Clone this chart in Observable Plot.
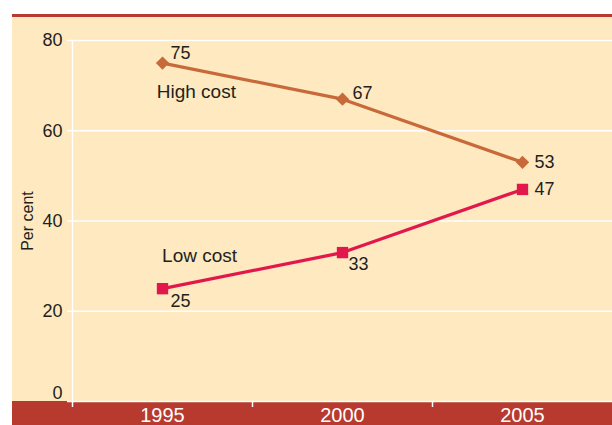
<!DOCTYPE html>
<html><head><meta charset="utf-8">
<script src="https://cdn.jsdelivr.net/npm/d3@7"></script>
<script src="https://cdn.jsdelivr.net/npm/@observablehq/plot@0.6"></script>
<style>
html,body{margin:0;padding:0;background:#fff;width:612px;height:425px;overflow:hidden}
#wrap{position:absolute;left:12px;top:14px;width:600px;height:408px;border-top:3px solid #b83a2e;
background:linear-gradient(to bottom,#fee9c0 0,#fee9c0 384px,#b83a2e 384px)}
svg{display:block;background:transparent}
</style></head><body><div id="wrap"></div>
<script>
const years = [1995, 2000, 2005];
const highCost = [75, 67, 53];
const lowCost = [25, 33, 47];
const seriesNames = ["High cost", "Low cost"];
const yTicks = [0, 20, 40, 60, 80];
const xTickLabels = ["1995", "2000", "2005"];
const xSeparators = [1992.5, 1997.5, 2002.5];
const yLabel = "Per cent";

const high = years.map((yr, i) => ({year: yr, value: highCost[i], label: String(highCost[i])}));
const low = years.map((yr, i) => ({year: yr, value: lowCost[i], label: String(lowCost[i])}));

const cHigh = "#c8693a", cLow = "#e2184c", ink = "#231f20";
const font = "Liberation Sans, Arial, Helvetica, sans-serif";
const xDomain = [1992.5, 2007.5];

const lab = (arr, i, dx, dy) => Plot.text([arr[i]], {x: "year", y: "value", text: "label", dx, dy, textAnchor: "start", fill: ink, fontSize: 18});

const chart = Plot.plot({
  width: 600, height: 408,
  marginLeft: 60, marginRight: 0, marginTop: 23, marginBottom: 24,
  style: {fontFamily: font, fontSize: "18px", background: "transparent", overflow: "visible"},
  x: {domain: xDomain},
  y: {domain: [0, 80]},
  marks: [
    Plot.gridY(yTicks, {stroke: "white", strokeOpacity: 1, strokeWidth: 1.5}),
    Plot.ruleX([xDomain[0]], {stroke: "white", strokeWidth: 1.5}),
    Plot.axisY(yTicks.filter(d => d > 0), {tickSize: 5, tickPadding: 5, stroke: "white", strokeWidth: 1.5, fill: ink, fontSize: 18, label: null}),
    Plot.axisY([0], {tickSize: 5, stroke: "white", strokeWidth: 1.5, text: null, label: null}),
    Plot.axisY([0], {dy: -8, fill: ink, fontSize: 18, tickSize: 0, tickPadding: 10, label: null}),
    Plot.axisX(xSeparators, {tickSize: 6, stroke: "white", strokeWidth: 1.5, text: null, label: null}),
    Plot.axisX(years, {tickSize: 0, tickPadding: 6, fill: "white", fontSize: 20, tickFormat: (d, i) => xTickLabels[i], label: null}),
    Plot.line(high, {x: "year", y: "value", stroke: cHigh, strokeWidth: 3.2}),
    Plot.line(low, {x: "year", y: "value", stroke: cLow, strokeWidth: 3.2}),
    Plot.dot(high, {x: "year", y: "value", symbol: "diamond2", r: 6, fill: cHigh, stroke: "none"}),
    Plot.dot(low, {x: "year", y: "value", symbol: "square", r: 6.4, fill: cLow, stroke: "none"}),
    lab(high, 0, 8, -10),
    lab(high, 1, 10, -6),
    lab(high, 2, 12, 0),
    lab(low, 0, 8, 13),
    lab(low, 1, 6, 12),
    lab(low, 2, 12, 0),
    Plot.text([seriesNames[0]], {x: [1995.94], y: [68.7], fill: ink, fontSize: 19}),
    Plot.text([seriesNames[1]], {x: [1996.03], y: [32.2], fill: ink, fontSize: 19}),
    Plot.text([yLabel], {frameAnchor: "left", textAnchor: "middle", rotate: -90, dx: -45, fill: ink, fontSize: 16})
  ]
});
document.getElementById("wrap").appendChild(chart);
</script>
</body></html>
